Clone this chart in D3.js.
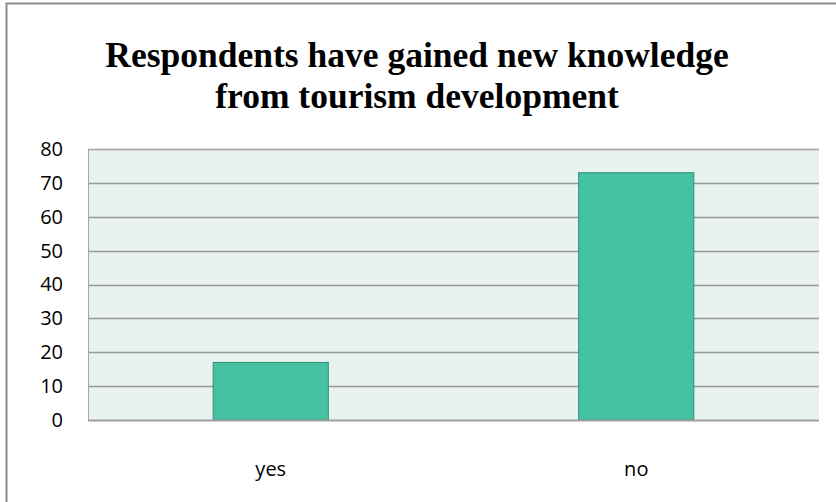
<!DOCTYPE html>
<html>
<head>
<meta charset="utf-8">
<script src="https://cdn.jsdelivr.net/npm/d3@7"></script>
<style>
  body { margin: 0; background: #fff; }
</style>
</head>
<body>
<div id="chart"></div>
<script>
const categories = ["yes", "no"]
const values = [17, 73]
const yTicks = [0, 10, 20, 30, 40, 50, 60, 70, 80]
const titleLines = ["Respondents have gained new knowledge", "from tourism development"]

const W = 836, H = 502
const M = {LEFT: 88, RIGHT: 17, TOP: 149, BOTTOM: 82}

const svg = d3.select("#chart").append("svg")
    .attr("width", W)
    .attr("height", H)

// chart frame (only left + top edges are visible in the crop)
svg.append("path")
    .attr("d", `M6.5,${H} V3.5 H${W}`)
    .attr("fill", "none")
    .attr("stroke", "#8c8c8c")
    .attr("stroke-width", 2)

svg.append("g").selectAll("text")
    .data(titleLines).enter()
    .append("text")
    .attr("x", 417)
    .attr("y", (d, i) => 67 + i * 41)
    .attr("text-anchor", "middle")
    .attr("font-family", "Liberation Serif, Times New Roman, serif")
    .attr("font-weight", "bold")
    .attr("font-size", 35.5)
    .attr("fill", "#000")
    .text(d => d)

const x = d3.scaleBand()
    .domain(categories)
    .range([M.LEFT, W - M.RIGHT])
    .paddingInner(0.685)
    .paddingOuter(0.3425)

const y = d3.scaleLinear()
    .domain([0, 80])
    .range([H - M.BOTTOM, M.TOP])

// plot background
svg.append("rect")
    .attr("x", M.LEFT)
    .attr("y", y(80))
    .attr("width", W - M.RIGHT - M.LEFT)
    .attr("height", y(0) - y(80))
    .attr("fill", "#e8f2ef")

// gridlines
svg.append("g").selectAll("line")
    .data(yTicks.filter(d => d > 0)).enter()
    .append("line")
    .attr("x1", M.LEFT).attr("x2", W - M.RIGHT)
    .attr("y1", d => Math.round(y(d)) + 0.5)
    .attr("y2", d => Math.round(y(d)) + 0.5)
    .attr("stroke", "#999")
    .attr("stroke-width", 1.3)

// plot area left/top edges
svg.append("path")
    .attr("d", `M${M.LEFT + 0.5},${y(0)} V${Math.round(y(80)) + 0.5} H${W - M.RIGHT}`)
    .attr("fill", "none")
    .attr("stroke", "#a6a6a6")

svg.append("g").selectAll("rect")
    .data(values).enter()
    .append("rect")
    .attr("x", (d, i) => x(categories[i]))
    .attr("y", d => y(d))
    .attr("width", x.bandwidth())
    .attr("height", d => y(0) - y(d))
    .attr("fill", "#45c2a2")
    .attr("stroke", "#2e8f78")
    .attr("stroke-width", 1)

// x axis baseline
svg.append("line")
    .attr("x1", M.LEFT).attr("x2", W - M.RIGHT)
    .attr("y1", y(0) + 0.5).attr("y2", y(0) + 0.5)
    .attr("stroke", "#a0a0a0")
    .attr("stroke-width", 2)

const yAxis = svg.append("g")
    .attr("transform", `translate(${M.LEFT},0)`)
    .call(d3.axisLeft(y).tickValues(yTicks).tickSize(0).tickPadding(25))
yAxis.select(".domain").remove()
yAxis.selectAll("text")
    .attr("font-family", "Open Sans, sans-serif")
    .attr("font-size", 20)
    .attr("fill", "#000")

const xAxis = svg.append("g")
    .attr("transform", `translate(0,${y(0)})`)
    .call(d3.axisBottom(x).tickSize(0).tickPadding(42))
xAxis.select(".domain").remove()
xAxis.selectAll("text")
    .attr("font-family", "Open Sans, sans-serif")
    .attr("font-size", 20)
    .attr("fill", "#000")
</script>
</body>
</html>
